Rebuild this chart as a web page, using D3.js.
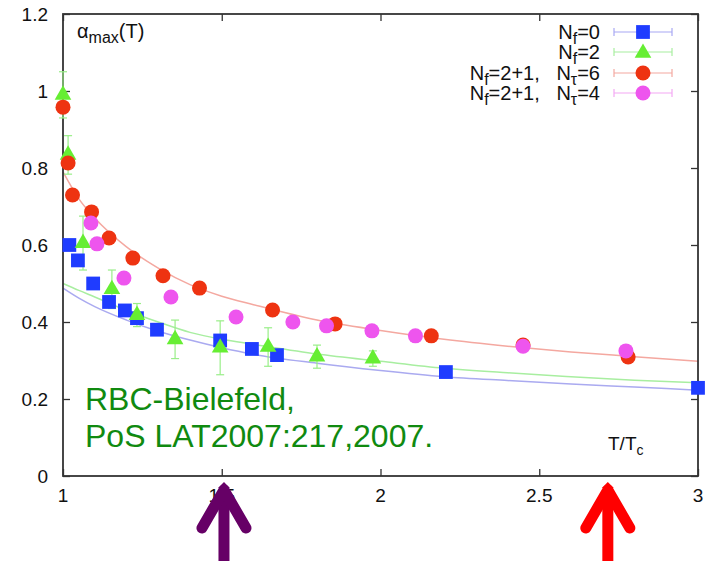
<!DOCTYPE html>
<html>
<head>
<meta charset="utf-8">
<script src="https://cdn.jsdelivr.net/npm/d3@7"></script>
<style>
  body { margin: 0; background: #fff; }
  text { font-family: "Liberation Sans", Arial, sans-serif; }
</style>
</head>
<body>
<div class="chart-container"></div>
<script>
// Nf=0 (blue squares)
const nf0X = [1.02, 1.047, 1.095, 1.145, 1.195, 1.233, 1.296, 1.495, 1.595, 1.674, 2.206, 3.0];
const nf0Y = [0.60, 0.56, 0.50, 0.452, 0.43, 0.41, 0.38, 0.352, 0.33, 0.314, 0.27, 0.229];

// Nf=2 (green triangles) with errors
const nf2X = [1.0, 1.016, 1.063, 1.154, 1.233, 1.353, 1.495, 1.646, 1.80, 1.976];
const nf2Y = [0.99, 0.834, 0.605, 0.485, 0.418, 0.355, 0.333, 0.335, 0.31, 0.305];
const nf2Err = [0.06, 0.05, 0.07, 0.05, 0.03, 0.05, 0.07, 0.05, 0.03, 0.02];

// Nf=2+1, Ntau=6 (red circles)
const nt6X = [1.0, 1.016, 1.03, 1.09, 1.145, 1.22, 1.315, 1.43, 1.66, 1.857, 2.16, 2.449, 2.78];
const nt6Y = [0.958, 0.813, 0.73, 0.686, 0.618, 0.566, 0.52, 0.488, 0.431, 0.395, 0.364, 0.340, 0.309];

// Nf=2+1, Ntau=4 (magenta circles)
const nt4X = [1.088, 1.107, 1.192, 1.34, 1.545, 1.724, 1.83, 1.973, 2.11, 2.449, 2.773];
const nt4Y = [0.657, 0.603, 0.514, 0.465, 0.413, 0.40, 0.39, 0.377, 0.364, 0.337, 0.325];

// fit curves
const fitX = [1.0, 1.05, 1.1, 1.2, 1.3, 1.4, 1.5, 1.6, 1.8, 2.0, 2.2, 2.4, 2.6, 2.8, 3.0];
const fitRed = [0.79, 0.72, 0.67, 0.595, 0.54, 0.497, 0.467, 0.445, 0.405, 0.378, 0.355, 0.337, 0.322, 0.31, 0.298];
const fitGreen = [0.50, 0.482, 0.465, 0.43, 0.40, 0.373, 0.355, 0.342, 0.317, 0.298, 0.28, 0.268, 0.258, 0.249, 0.242];
const fitBlue = [0.488, 0.462, 0.44, 0.405, 0.376, 0.353, 0.333, 0.316, 0.293, 0.274, 0.258, 0.248, 0.239, 0.231, 0.223];

const xTicks = [1, 1.5, 2, 2.5, 3];
const xTickLabels = ["1", "1.5", "2", "2.5", "3"];
const yTicks = [0, 0.2, 0.4, 0.6, 0.8, 1, 1.2];
const yTickLabels = ["0", "0.2", "0.4", "0.6", "0.8", "1", "1.2"];
const arrowsAt = [1.507, 2.716];

const W = 708, H = 561;
const margin = { left: 63, right: 698, top: 14, bottom: 476 };

const svg = d3.select(".chart-container").append("svg")
    .attr("width", W)
    .attr("height", H);

const x = d3.scaleLinear().domain([1, 3]).range([margin.left, margin.right]);
const y = d3.scaleLinear().domain([0, 1.2]).range([margin.bottom, margin.top]);

// fit lines
const line = d3.line().curve(d3.curveMonotoneX);
[[fitBlue, "#aaaaf0"], [fitGreen, "#a8eea0"], [fitRed, "#f4a8a0"]].forEach(([vals, col]) => {
    svg.append("path")
        .attr("d", line(fitX.map((v, i) => [x(v), y(vals[i])])))
        .attr("fill", "none")
        .attr("stroke", col)
        .attr("stroke-width", 1.5);
});

// frame
svg.append("rect")
    .attr("x", margin.left).attr("y", margin.top)
    .attr("width", margin.right - margin.left).attr("height", margin.bottom - margin.top)
    .attr("fill", "none")
    .attr("stroke", "#333")
    .attr("stroke-width", 1.8);

// tick marks (inward, mirrored)
const tl = 7;
function styleAxis(g) {
    g.select(".domain").remove();
    g.selectAll("text").remove();
    g.selectAll("line").attr("stroke", "#333").attr("stroke-width", 1.3);
}
svg.append("g").attr("transform", "translate(0," + margin.bottom + ")")
    .call(d3.axisBottom(x).tickValues(xTicks).tickSize(-tl)).call(styleAxis);
svg.append("g").attr("transform", "translate(0," + margin.top + ")")
    .call(d3.axisTop(x).tickValues(xTicks).tickSize(-tl)).call(styleAxis);
svg.append("g").attr("transform", "translate(" + margin.left + ",0)")
    .call(d3.axisLeft(y).tickValues(yTicks).tickSize(-tl)).call(styleAxis);
svg.append("g").attr("transform", "translate(" + margin.right + ",0)")
    .call(d3.axisRight(y).tickValues(yTicks).tickSize(-tl)).call(styleAxis);

// tick labels
svg.append("g").selectAll("text").data(xTicks).join("text")
    .attr("x", d => x(d)).attr("y", margin.bottom + 26)
    .attr("text-anchor", "middle")
    .attr("font-size", 19).attr("fill", "#111")
    .text((d, i) => xTickLabels[i]);
svg.append("g").selectAll("text").data(yTicks).join("text")
    .attr("x", margin.left - 15).attr("y", d => y(d) + 7)
    .attr("text-anchor", "end")
    .attr("font-size", 19).attr("fill", "#111")
    .text((d, i) => yTickLabels[i]);

// error bars for Nf=2
const eb = svg.append("g").attr("stroke", "#99ee88").attr("stroke-width", 1.2);
nf2X.forEach((v, i) => {
    const cx = x(v), y1 = y(nf2Y[i] - nf2Err[i]), y2 = y(nf2Y[i] + nf2Err[i]);
    eb.append("line").attr("x1", cx).attr("x2", cx).attr("y1", y1).attr("y2", y2);
    eb.append("line").attr("x1", cx - 4).attr("x2", cx + 4).attr("y1", y1).attr("y2", y1);
    eb.append("line").attr("x1", cx - 4).attr("x2", cx + 4).attr("y1", y2).attr("y2", y2);
});

const blue = "#1f3cff", green = "#66ee33", red = "#ee3311", magenta = "#ee55ee";
const sq = d3.symbol().type(d3.symbolSquare).size(190);
const tri = d3.symbol().type(d3.symbolTriangle).size(120);

svg.append("g").selectAll("path").data(nf0X.map((v, i) => [v, nf0Y[i]])).join("path")
    .attr("d", sq)
    .attr("transform", d => "translate(" + x(d[0]) + "," + y(d[1]) + ")")
    .attr("fill", blue);

svg.append("g").selectAll("path").data(nf2X.map((v, i) => [v, nf2Y[i]])).join("path")
    .attr("d", tri)
    .attr("transform", d => "translate(" + x(d[0]) + "," + y(d[1]) + ")")
    .attr("fill", green);

svg.append("g").selectAll("circle").data(nt6X.map((v, i) => [v, nt6Y[i]])).join("circle")
    .attr("cx", d => x(d[0])).attr("cy", d => y(d[1])).attr("r", 7.5)
    .attr("fill", red);

svg.append("g").selectAll("circle").data(nt4X.map((v, i) => [v, nt4Y[i]])).join("circle")
    .attr("cx", d => x(d[0])).attr("cy", d => y(d[1])).attr("r", 7.5)
    .attr("fill", magenta);

// legend
const legend = [
    { main: "N", sub: "f", rest: "=0", extra: null, col: blue, line: "#a8a8f4", sym: "sq" },
    { main: "N", sub: "f", rest: "=2", extra: null, col: green, line: "#a8eea0", sym: "tri" },
    { main: "N", sub: "f", rest: "=2+1,\u00a0\u00a0\u00a0N", extra: ["τ", "=6"], col: red, line: "#f4a8a0", sym: "c" },
    { main: "N", sub: "f", rest: "=2+1,\u00a0\u00a0\u00a0N", extra: ["τ", "=4"], col: magenta, line: "#f4a8f4", sym: "c" }
];
const legY = [32, 52, 73, 93];
legend.forEach((d, i) => {
    const ly = legY[i];
    const t = svg.append("text")
        .attr("x", 600).attr("y", ly + 7)
        .attr("text-anchor", "end")
        .style("font-size", "20px")
        .attr("fill", "#111");
    t.append("tspan").text(d.main);
    t.append("tspan").attr("dy", 5).style("font-size", "16px").text(d.sub);
    t.append("tspan").attr("dy", -5).text(d.rest);
    if (d.extra) {
        t.append("tspan").attr("dy", 5).style("font-size", "16px").text(d.extra[0]);
        t.append("tspan").attr("dy", -5).text(d.extra[1]);
    }
    const g = svg.append("g").attr("stroke", d.line).attr("stroke-width", 1.2);
    g.append("line").attr("x1", 614).attr("x2", 672).attr("y1", ly).attr("y2", ly);
    g.append("line").attr("x1", 614).attr("x2", 614).attr("y1", ly - 4).attr("y2", ly + 4);
    g.append("line").attr("x1", 672).attr("x2", 672).attr("y1", ly - 4).attr("y2", ly + 4);
    if (d.sym === "sq") {
        svg.append("path").attr("d", sq).attr("transform", "translate(643," + ly + ")").attr("fill", d.col);
    } else if (d.sym === "tri") {
        svg.append("path").attr("d", tri).attr("transform", "translate(643," + (ly + 1) + ")").attr("fill", d.col);
    } else {
        svg.append("circle").attr("cx", 643).attr("cy", ly).attr("r", 7.5).attr("fill", d.col);
    }
});

// y label
const yl = svg.append("text").attr("x", 77).attr("y", 38).style("font-size", "20px").attr("fill", "#111");
yl.append("tspan").text("α");
yl.append("tspan").attr("dy", 5).style("font-size", "16px").text("max");
yl.append("tspan").attr("dy", -5).text("(T)");

// x label
const xl = svg.append("text").attr("x", 608).attr("y", 450).style("font-size", "19px").attr("fill", "#111");
xl.append("tspan").text("T/T");
xl.append("tspan").attr("dy", 5).style("font-size", "14px").text("c");

// citation
svg.append("text").attr("x", 85).attr("y", 410).style("font-size", "32px").attr("fill", "#108a10")
    .text("RBC-Bielefeld,");
svg.append("text").attr("x", 85).attr("y", 447).style("font-size", "32px").attr("fill", "#108a10")
    .text("PoS LAT2007:217,2007.");

// arrows
const arrowCols = ["#660066", "#ff0000"];
arrowsAt.forEach((v, i) => {
    const ax = x(v);
    const g = svg.append("g")
        .attr("stroke", arrowCols[i]).attr("fill", "none")
        .attr("stroke-width", 11).attr("stroke-linecap", "round").attr("stroke-linejoin", "round");
    g.append("line").attr("x1", ax).attr("x2", ax).attr("y1", 492).attr("y2", H + 10).attr("stroke-linecap", "butt");
    g.append("path").attr("d", "M" + (ax - 22) + ",528 L" + ax + ",490 L" + (ax + 22) + ",528");
    svg.append("path")
        .attr("d", "M" + (ax - 6) + ",488 L" + ax + ",482 L" + (ax + 6) + ",488 Z")
        .attr("fill", arrowCols[i]);
});
</script>
</body>
</html>
